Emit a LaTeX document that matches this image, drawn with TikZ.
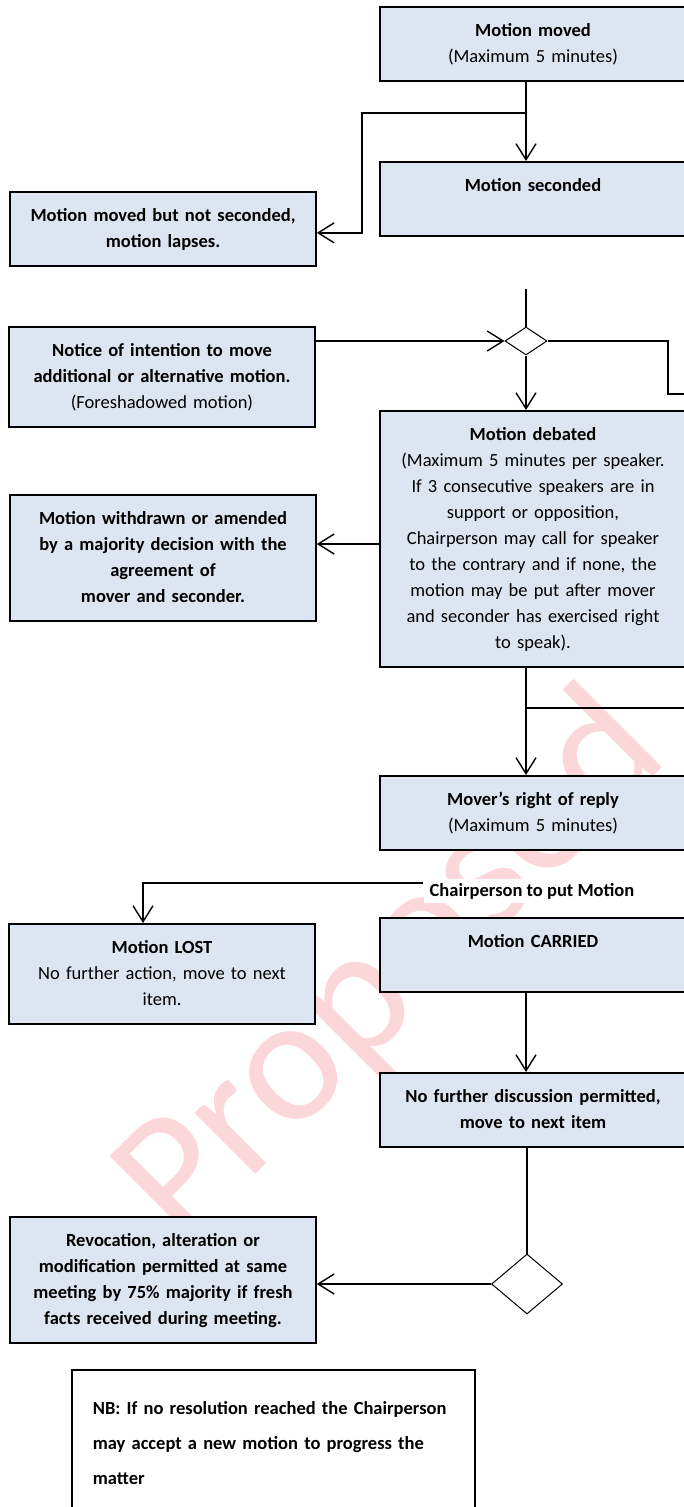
\documentclass[tikz,border=0pt]{standalone}
\usepackage{fontspec}
\setmainfont{Carlito}
\usetikzlibrary{arrows.meta,calc,shapes.geometric}
\definecolor{boxblue}{RGB}{220,230,242}
\definecolor{markpink}{RGB}{252,215,218}
\newcommand{\boxfont}{\fontsize{18.5}{26}\selectfont}

\tikzset{
	stage/.style={draw, line width=1.7pt, fill=boxblue, text width=300pt, inner xsep=3pt, inner ysep=11pt, align=center, anchor=north, font=\boxfont, execute at begin node=\strut, execute at end node=\strut},
	strong/.style={font=\boxfont\bfseries},
	flow/.style={line width=1.4pt, -{Straight Barb[length=16pt,width=20pt]}},
	link/.style={line width=1.4pt},
	gate/.style={diamond, draw, line width=1pt, fill=white, inner sep=0pt, aspect=1.5}
}

\begin{document}
\begin{tikzpicture}[x=1pt, y=-1pt]
			%%%%% START %%%%%
			\useasboundingbox (0,0) rectangle (684,1507);
			\clip (0,0) rectangle (684,1507);
			
			\node[rotate=45, text=markpink, anchor=base west, inner sep=0pt, font=\fontsize{180}{180}\selectfont] (mark) at (182,1248) {Proposed};
			
			\node[stage] (moved) at (533,6) {\textbf{Motion moved}\\(Maximum 5 minutes)};
			\node[stage, strong] (seconded) at (533,161) {Motion seconded\\};
			\node[stage, strong] (lapses) at (163,191) {Motion moved but not seconded,\\motion lapses.};
			
			\node[stage] (notice) at (162,326) {\textbf{Notice of intention to move}\\\textbf{additional or alternative motion.}\\(Foreshadowed motion)};
			\node[gate, minimum width=42pt, minimum height=28pt] (gate1) at (526,341) {};
			\node[stage] (debated) at (533,410) {\textbf{Motion debated}\\(Maximum 5 minutes per speaker.\\If 3 consecutive speakers are in\\support or opposition,\\Chairperson may call for speaker\\to the contrary and if none, the\\motion may be put after mover\\and seconder has exercised right\\to speak).};
			\node[stage, strong] (withdrawn) at (163,494) {Motion withdrawn or amended\\by a majority decision with the\\agreement of\\mover and seconder.};
			
			\node[stage] (reply) at (533,775) {\textbf{Mover’s right of reply}\\(Maximum 5 minutes)};
			\node[fill=white, inner xsep=6pt, inner ysep=4pt, font=\boxfont\bfseries] (putmotion) at (532,891) {Chairperson to put Motion};
			\node[stage] (carried) at (533,917) {\textbf{Motion CARRIED}\\[21pt]};
			\node[stage] (lost) at (162,923) {\textbf{Motion LOST}\\No further action, move to next\\item.};
			\node[stage, strong] (nofurther) at (533,1072) {No further discussion permitted,\\move to next item};
			
			\node[gate, minimum width=71pt, minimum height=60pt] (gate2) at (527,1284) {};
			\node[stage, strong] (revoke) at (163,1216) {Revocation, alteration or\\modification permitted at same\\meeting by 75\% majority if fresh\\facts received during meeting.};
			
			\node[draw, line width=1.7pt, fill=white, anchor=north west, text width=361pt, inner xsep=21pt, inner ysep=20pt, align=left, font=\fontsize{18.5}{35}\selectfont\bfseries, execute at begin node=\strut, execute at end node=\strut] (nb) at (71,1369) {NB: If no resolution reached the Chairperson\\may accept a new motion to progress the\\matter};
			
			% loose ends of the lines
			\coordinate (spine) at (526,0);
			\coordinate (split1) at (526,113);
			\coordinate (entry) at (526,289);
			\coordinate (bend1) at (668,394);
			\coordinate (exit1) at (692,394);
			\coordinate (split2) at (526,708);
			\coordinate (exit2) at (692,708);
			
			\draw[flow] (moved.south -| spine) -- (seconded.north -| spine);
			\draw[flow] (split1) -| ($(lapses.east)+(45,4)$) -- ($(lapses.east)+(0,4)$);
			
			\draw[link] (entry) -- (gate1.north);
			\draw[flow] (notice.east |- gate1.west) -- (gate1.west);
			\draw[link] (gate1.east) -| (bend1) -- (exit1);
			\draw[flow] (gate1.south) -- (debated.north -| gate1.south);
			\draw[flow] (debated.west |- 0,544) -- (withdrawn.east |- 0,544);
			
			\draw[flow] (debated.south -| spine) -- (reply.north -| spine);
			\draw[link] (split2) -- (exit2);
			\draw[flow] ([yshift=8pt]putmotion.west) -| ([xshift=-19pt]lost.north);
			
			\draw[flow] (carried.south -| spine) -- (nofurther.north -| spine);
			\draw[link] (nofurther.south -| gate2.north) -- (gate2.north);
			\draw[flow] (gate2.west) -- (gate2.west -| revoke.east);
			
			%%%%% END %%%%%
\end{tikzpicture}
\end{document}
